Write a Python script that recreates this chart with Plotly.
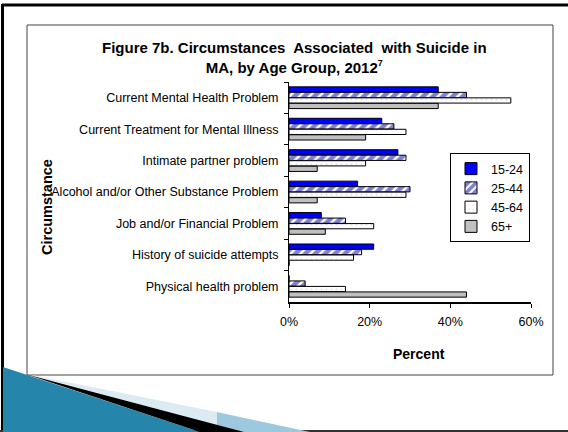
import plotly.graph_objects as go

# Circumstances (top to bottom) and percent of suicides by age group
circumstances = [
    "Current Mental Health Problem",
    "Current Treatment for Mental Illness",
    "Intimate partner problem",
    "Alcohol and/or Other Substance Problem",
    "Job and/or Financial Problem",
    "History of suicide attempts",
    "Physical health problem",
]
age_groups = ["15-24", "25-44", "45-64", "65+"]
pct_15_24 = [37, 23, 27, 17, 8, 21, 0]
pct_25_44 = [44, 26, 29, 30, 14, 18, 4]
pct_45_64 = [55, 29, 19, 29, 21, 16, 14]
pct_65_plus = [37, 19, 7, 7, 9, 0, 44]
x_ticks = [0, 20, 40, 60]

W, H = 568, 432
# plot area in pixels
PL, PR, PT, PB = 289, 531, 82, 302

FONT = "Liberation Sans, Arial, sans-serif"


def px(x):
    return (x - PL) / (PR - PL)


def py(y):
    return (PB - y) / (PB - PT)


def poly(points):
    d = "M " + " L ".join(f"{px(a):.5f},{py(b):.5f}" for a, b in points) + " Z"
    return d


styles = [
    dict(color="#0000FF"),
    dict(color="white", pattern=dict(shape="/", fgcolor="#0000A8", bgcolor="white",
                                      size=7, solidity=0.65)),
    dict(color="white", pattern=dict(shape=".", fgcolor="#BDBDBD", bgcolor="white",
                                      size=5, solidity=0.12)),
    dict(color="#C0C0C0"),
]
series = [pct_15_24, pct_25_44, pct_45_64, pct_65_plus]

fig = go.Figure()
for name, vals, st in zip(age_groups, series, styles):
    marker = dict(color=st["color"], line=dict(color="black", width=1))
    if "pattern" in st:
        marker["pattern"] = st["pattern"]
    fig.add_trace(go.Bar(
        y=circumstances, x=vals, name=name, orientation="h", marker=marker,
    ))

shapes = [
    # slide frame
    dict(type="line", x0=px(2), x1=px(568), y0=py(5), y1=py(5),
         line=dict(color="black", width=3)),
    dict(type="line", x0=px(2.5), x1=px(2.5), y0=py(4), y1=py(431),
         line=dict(color="black", width=3)),
    dict(type="line", x0=px(0), x1=px(568), y0=py(431), y1=py(431),
         line=dict(color="#333333", width=2)),
    # chart box
    dict(type="rect", x0=px(27), x1=px(553), y0=py(25), y1=py(375),
         line=dict(color="#444444", width=1), fillcolor="rgba(0,0,0,0)"),
    # decorative corner wedge
    dict(type="path", path=poly([(27, 374), (217, 412), (217, 425)]),
         fillcolor="#DCEAF1", line=dict(width=0)),
    dict(type="path", path=poly([(217, 412), (310, 432), (240, 432), (217, 425)]),
         fillcolor="#9CC9DD", line=dict(width=0)),
    dict(type="path", path=poly([(3, 367), (200, 432), (3, 432)]),
         fillcolor="#2585AB", line=dict(width=0)),
    dict(type="path", path=poly([(27, 374.5), (244, 432), (200, 432)]),
         fillcolor="black", line=dict(width=0)),
]
for s in shapes:
    s.update(xref="paper", yref="paper", layer="below")
fig.update_layout(shapes=shapes)

fig.add_annotation(
    text="Figure 7b. Circumstances\u00a0 Associated\u00a0 with Suicide in<br>"
         "MA, by Age Group, 2012<sup><span style='font-size:9px'>7</span></sup>",
    xref="paper", yref="paper", x=px(294), y=py(58), xanchor="center", yanchor="middle",
    showarrow=False, font=dict(family=FONT, size=15, color="black", weight="bold"),
)
fig.add_annotation(
    text="Circumstance", textangle=-90,
    xref="paper", yref="paper", x=px(47), y=py(207), xanchor="center", yanchor="middle",
    showarrow=False, font=dict(family=FONT, size=14.5, color="black", weight="bold"),
)
fig.add_annotation(
    text="Percent",
    xref="paper", yref="paper", x=px(419), y=py(354), xanchor="center", yanchor="middle",
    showarrow=False, font=dict(family=FONT, size=14, color="black", weight="bold"),
)

fig.update_layout(
    width=W, height=H,
    margin=dict(l=PL, r=W - PR, t=PT, b=H - PB, pad=0),
    paper_bgcolor="white", plot_bgcolor="white",
    barmode="group", bargap=0.3, bargroupgap=0.05,
    font=dict(family=FONT, size=12.5, color="black"),
    showlegend=True,
    legend=dict(
        x=px(450), y=py(153), xanchor="left", yanchor="top",
        bgcolor="white", bordercolor="black", borderwidth=1,
        font=dict(family=FONT, size=12.5, color="black"),
        traceorder="normal",
    ),
    xaxis=dict(
        range=[0, 60], tickvals=x_ticks, ticktext=[f"{v}%" for v in x_ticks],
        showgrid=False, zeroline=False, showline=True, linecolor="black", linewidth=1.5,
        ticks="outside", ticklen=4, tickcolor="black",
        tickfont=dict(family=FONT, size=12.5), ticklabelstandoff=3,
    ),
    yaxis=dict(
        autorange="reversed", showgrid=False, zeroline=False,
        showline=True, linecolor="black", linewidth=1,
        ticks="outside", ticklen=4, tickcolor="black", tickson="boundaries",
        tickfont=dict(family=FONT, size=12.5), ticklabelstandoff=7,
    ),
)

fig.write_html("out.html")
